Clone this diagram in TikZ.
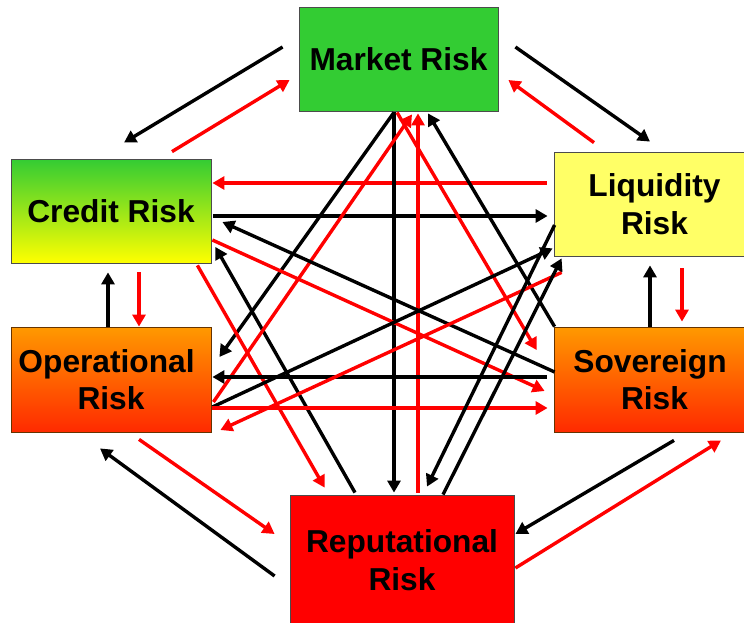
\documentclass[tikz,border=0pt]{standalone}
\usepackage{fontspec}
\setmainfont{Liberation Sans}
\usetikzlibrary{calc,arrows.meta,shadows}
\definecolor{mktgreen}{HTML}{33CC33}
\definecolor{liqyellow}{HTML}{FFFF66}
\definecolor{opsorange}{HTML}{FF9900}
\definecolor{opsred}{HTML}{FF2A00}
\begin{document}
\begin{tikzpicture}[x=1pt,y=-1pt,
    box/.style={draw=black!70,line width=0.8pt,minimum width=200pt,minimum height=104pt,
      inner sep=0pt,align=center,font=\bfseries\fontsize{31.7}{37.5}\selectfont,
      drop shadow={shadow xshift=1.2pt,shadow yshift=-1.2pt,fill=black!30,opacity=1}},
    orangebox/.style={box,draw=orange!40!black,top color=opsorange,bottom color=opsred},
    blk/.style={line width=3.4pt,-{Triangle[length=12pt,width=13pt]}},
    rd/.style={blk,red}]
  \useasboundingbox (0,0) rectangle (744,623);
  % the six risk boxes
  \node[box,fill=mktgreen,minimum width=199pt] (market) at (398.5,59) {Market Risk};
  \node[box,top color=mktgreen,bottom color=yellow] (credit) at (111,211) {Credit Risk};
  \node[box,fill=liqyellow,minimum width=201pt] (liquidity) at (654.5,204) {Liquidity\\Risk};
  \node[orangebox,minimum height=105pt] (operational) at (111,379.5) {Operational\kern0.28em\\Risk};
  \node[orangebox,minimum width=201pt,minimum height=105pt] (sovereign) at (654.5,379.5) {Sovereign\kern0.28em\\Risk};
  \node[box,fill=red,minimum width=224pt,minimum height=130pt] (reputational) at (402,560) {Reputational\\Risk};
  % outer ring
  \draw[blk] ($(market.west)+(-16,-12)$) -- ($(credit.north)+(13,-16)$);
  \draw[rd] ($(credit.north)+(61,-7)$) -- ($(market.west)+(-9,21)$);
  \draw[blk] ($(market.east)+(17,-12)$) -- ($(liquidity.north)+(-4.5,-10)$);
  \draw[rd] ($(liquidity.north)+(-60.5,-9)$) -- ($(market.east)+(10,21)$);
  \draw[blk] ($(operational.north)+(-3,0)$) -- ($(credit.south)+(-3,9)$);
  \draw[rd] ($(credit.south)+(28,9)$) -- ($(operational.north)+(28,0)$);
  \draw[blk] ($(sovereign.north)+(-4.5,0)$) -- ($(liquidity.south)+(-4.5,9)$);
  \draw[rd] ($(liquidity.south)+(27.5,12)$) -- ($(sovereign.north)+(27.5,-5)$);
  \draw[rd] ($(operational.south)+(28,7)$) -- ($(reputational.west)+(-15,-26)$);
  \draw[blk] ($(reputational.west)+(-15,16)$) -- ($(operational.south)+(-11,16)$);
  \draw[blk] ($(sovereign.south)+(19.5,8)$) -- ($(reputational.east)+(1,-26)$);
  \draw[rd] ($(reputational.east)+(1,8)$) -- ($(sovereign.south)+(66.5,8)$);
  % across the middle
  \draw[rd] ($(liquidity.west)+(-7,-21)$) -- ($(credit.east)+(1,-28)$);
  \draw[blk] ($(credit.east)+(2,5)$) -- ($(liquidity.west)+(-6,12)$);
  \draw[blk] ($(market.south)+(-4.5,1)$) -- ($(operational.east)+(8,-22.5)$);
  \draw[blk] ($(market.south)+(-4.5,1)$) -- ($(reputational.north)+(-8,-2)$);
  \draw[rd] ($(reputational.north)+(16,-2)$) -- ($(market.south)+(19.5,2)$);
  \draw[blk] ($(reputational.north)+(-47,-2)$) -- ($(credit.east)+(4,36)$);
  \draw[rd] ($(operational.east)+(2,22.5)$) -- ($(market.south)+(13.5,3)$);
  \draw[rd] ($(market.south)+(-1.5,1)$) -- ($(sovereign.west)+(-17,-29.5)$);
  \draw[blk] ($(sovereign.north west)+(1,0)$) -- ($(market.south)+(29.5,2)$);
  \draw[blk] ($(sovereign.west)+(1,-7.5)$) -- ($(credit.east)+(11,11)$);
  \draw[rd] ($(credit.east)+(1,29)$) -- ($(sovereign.west)+(-9,11.5)$);
  \draw[rd] ($(credit.south east)+(-14,2)$) -- ($(reputational.north west)+(35,-7)$);
  \draw[blk] ($(operational.east)+(1,27.5)$) -- ($(liquidity.south west)+(-1,-8)$);
  \draw[blk] ($(sovereign.west)+(-7,-2.5)$) -- ($(operational.east)+(1,-2.5)$);
  \draw[rd] ($(operational.east)+(1,28.5)$) -- ($(sovereign.west)+(-6,28.5)$);
  \draw[rd] ($(liquidity.south west)+(8,16)$) -- ($(operational.east)+(9,50.5)$);
  \draw[blk] ($(liquidity.west)+(1,21)$) -- ($(reputational.north)+(25,-8)$);
  \draw[blk] ($(reputational.north)+(41,0)$) -- ($(liquidity.south west)+(8,2)$);
\end{tikzpicture}
\end{document}
